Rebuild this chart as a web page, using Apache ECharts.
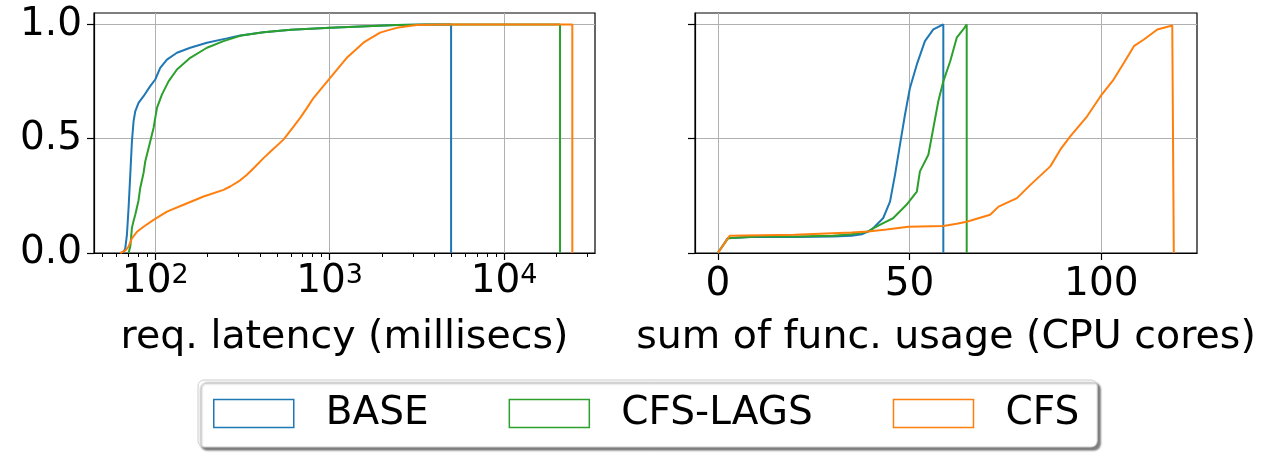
<!DOCTYPE html>
<html><head><meta charset="utf-8">
<script src="https://cdn.jsdelivr.net/npm/echarts@6/dist/echarts.min.js"></script>
<style>html,body{margin:0;padding:0;background:#fff}#c{width:1278px;height:453px}</style>
</head><body><div id="c"></div>
<script>
// ---------- DATA ----------
const seriesNames = ['BASE', 'CFS-LAGS', 'CFS'];

// Left panel: request latency (ms), empirical CDF
const latBaseX = [65.5, 67.3, 68.8, 70.3, 71.9, 73.5, 75.1, 76.8, 80.2, 85.7, 93.6, 100, 106.8, 116.7, 133.2, 158.7, 197.9, 257.6, 306.9, 417.6, 600, 1007, 2427, 3600, 4970, 4970];
const latBaseY = [0, 0.02, 0.079, 0.196, 0.342, 0.488, 0.576, 0.62, 0.657, 0.686, 0.73, 0.759, 0.81, 0.846, 0.876, 0.898, 0.92, 0.939, 0.952, 0.966, 0.977, 0.986, 0.997, 1.0, 1.0, 0];

const latLagsX = [70.3, 72.0, 73.5, 75.1, 76.8, 80.2, 82.0, 85.7, 87.6, 93.6, 97.8, 102.3, 109.2, 119.2, 133.2, 158.7, 197.9, 246.3, 306.9, 417.6, 600, 1007, 2427, 3600, 20940, 20940];
const latLagsY = [0, 0.03, 0.11, 0.14, 0.167, 0.23, 0.284, 0.35, 0.4, 0.488, 0.547, 0.635, 0.693, 0.751, 0.803, 0.854, 0.898, 0.927, 0.95, 0.966, 0.977, 0.986, 0.997, 1.0, 1.0, 0];

const latCfsX = [63.0, 67.3, 70.3, 73.5, 78.6, 85.7, 97.8, 116.7, 145.3, 189.2, 246.3, 269.1, 306.9, 335.5, 370, 417.6, 460, 543.5, 610, 677.6, 740, 807.5, 900, 1007, 1120, 1254, 1400, 1562, 1750, 1947, 2150, 2427, 2800, 3159, 3700, 4488, 24630, 24630];
const latCfsY = [0, 0.01, 0.028, 0.064, 0.093, 0.115, 0.145, 0.181, 0.211, 0.247, 0.276, 0.291, 0.318, 0.342, 0.374, 0.415, 0.445, 0.496, 0.545, 0.591, 0.634, 0.678, 0.721, 0.766, 0.809, 0.854, 0.887, 0.92, 0.943, 0.964, 0.974, 0.985, 0.992, 0.997, 0.999, 1.0, 1.0, 0];

// Right panel: sum of function usage (CPU cores), empirical CDF
const cpuBaseX = [0, 2.6, 3.1, 10, 20, 30, 34.9, 37.5, 39.2, 40.5, 43.1, 44.9, 46.2, 47.5, 48.8, 50.1, 51.9, 54.0, 56.2, 57.9, 58.8, 58.8];
const cpuBaseY = [0, 0.064, 0.072, 0.071, 0.07, 0.072, 0.075, 0.082, 0.094, 0.108, 0.152, 0.225, 0.342, 0.474, 0.605, 0.722, 0.825, 0.927, 0.978, 0.993, 1.0, 0];

const cpuLagsX = [0, 2.6, 3.1, 10, 20, 30, 34.9, 39.2, 40.5, 43, 45.7, 49.2, 51.9, 52.7, 54.9, 56.2, 57.5, 58.8, 60.6, 62.3, 64.0, 64.9, 64.9];
const cpuLagsY = [0, 0.064, 0.072, 0.072, 0.072, 0.075, 0.082, 0.094, 0.108, 0.13, 0.152, 0.211, 0.269, 0.357, 0.43, 0.547, 0.664, 0.751, 0.839, 0.942, 0.978, 1.0, 0];

const cpuCfsX = [0, 2.6, 3.1, 20, 34.9, 39.2, 44, 49.7, 58.8, 62.3, 64.9, 71.0, 73.2, 78.0, 81.5, 86.7, 89.3, 91.9, 96.3, 99.8, 103.2, 105.9, 108.5, 111.1, 114.6, 118.5, 118.9, 118.9];
const cpuCfsY = [0, 0.064, 0.075, 0.08, 0.09, 0.094, 0.103, 0.115, 0.118, 0.128, 0.137, 0.167, 0.203, 0.24, 0.298, 0.379, 0.452, 0.51, 0.598, 0.686, 0.759, 0.832, 0.905, 0.934, 0.978, 0.995, 1.0, 0];

// Tick values
const latMajorTicks = [100, 1000, 10000];
const latMinorTicks = [50, 60, 70, 80, 90, 200, 300, 400, 500, 600, 700, 800, 900, 2000, 3000, 4000, 5000, 6000, 7000, 8000, 9000, 20000, 30000];
const cpuTicks = [0, 50, 100];
const cdfTicks = [0, 0.5, 1.0];

// ---------- STYLE / BUILD ----------
const FONT = 'DejaVu Sans';
const FS = 39;
const COLORS = ['#1f77b4', '#2ca02c', '#ff7f0e'];
const zip = (xs, ys) => xs.map((x, i) => [x, ys[i]]);
const black = { color: '#000', width: 1.2 };
const gridLine = { show: true, lineStyle: { color: '#b0b0b0', width: 1 } };

const latData = [zip(latBaseX, latBaseY), zip(latLagsX, latLagsY), zip(latCfsX, latCfsY)];
const cpuData = [zip(cpuBaseX, cpuBaseY), zip(cpuLagsX, cpuLagsY), zip(cpuCfsX, cpuCfsY)];

const LAT_MIN = 44.55, LAT_MAX = 33230;
const CPU_MIN = -5.95, CPU_MAX = 124.95;

const series = [];
seriesNames.forEach((n, i) => {
  series.push({ name: n, type: 'line', xAxisIndex: 0, yAxisIndex: 0, data: latData[i], showSymbol: false, symbol: 'none',
    lineStyle: { color: COLORS[i], width: 2 }, itemStyle: { color: COLORS[i] }, animation: false, z: 3 + i });
  series.push({ name: n, type: 'line', xAxisIndex: 2, yAxisIndex: 1, data: cpuData[i], showSymbol: false, symbol: 'none',
    lineStyle: { color: COLORS[i], width: 2 }, itemStyle: { color: COLORS[i] }, animation: false, z: 3 + i });
});

const nameStyle = { fontSize: 39.5, color: '#000', fontFamily: FONT };

const option = {
  animation: false,
  textStyle: { fontFamily: FONT },
  grid: [
    { left: 94, top: 13, width: 501, height: 240, show: true, borderColor: '#000', borderWidth: 1.2, backgroundColor: 'transparent' },
    { left: 695, top: 13, width: 502, height: 240, show: true, borderColor: '#000', borderWidth: 1.2, backgroundColor: 'transparent' }
  ],
  xAxis: [
    { gridIndex: 0, type: 'log', logBase: 10, min: LAT_MIN, max: LAT_MAX, position: 'bottom',
      axisLine: { onZero: false, lineStyle: black },
      axisTick: { customValues: latMajorTicks, length: 7, lineStyle: black },
      axisLabel: { customValues: latMajorTicks, margin: 9, color: '#000',
        formatter: v => '{b|10}{s|' + Math.round(Math.log10(v)) + '}',
        rich: { b: { fontSize: FS, lineHeight: 40, fontFamily: FONT, color: '#000' },
                s: { fontSize: 27, lineHeight: 22, fontFamily: FONT, color: '#000', verticalAlign: 'top' } } },
      splitLine: gridLine,
      name: 'req. latency (millisecs)', nameLocation: 'middle', nameGap: 65, nameTextStyle: nameStyle },
    { gridIndex: 0, type: 'log', logBase: 10, min: LAT_MIN, max: LAT_MAX, position: 'bottom',
      axisLine: { show: false, onZero: false },
      axisTick: { customValues: latMinorTicks, length: 4, lineStyle: { color: '#000', width: 1 } },
      axisLabel: { show: false }, splitLine: { show: false } },
    { gridIndex: 1, type: 'value', min: CPU_MIN, max: CPU_MAX, position: 'bottom',
      axisLine: { onZero: false, lineStyle: black },
      axisTick: { customValues: cpuTicks, length: 7, lineStyle: black },
      axisLabel: { customValues: cpuTicks, margin: 12, fontSize: FS, color: '#000', fontFamily: FONT },
      splitLine: gridLine,
      name: 'sum of func. usage (CPU cores)', nameLocation: 'middle', nameGap: 65, nameTextStyle: nameStyle }
  ],
  yAxis: [
    { gridIndex: 0, type: 'value', min: 0, max: 1.05,
      axisLine: { show: true, onZero: false, lineStyle: black },
      axisTick: { show: true, customValues: cdfTicks, length: 7, lineStyle: black },
      axisLabel: { customValues: cdfTicks, margin: 12, fontSize: FS, color: '#000', fontFamily: FONT, formatter: v => Number(v).toFixed(1) },
      splitLine: gridLine },
    { gridIndex: 1, type: 'value', min: 0, max: 1.05,
      axisLine: { show: true, onZero: false, lineStyle: black },
      axisTick: { show: true, customValues: cdfTicks, length: 7, lineStyle: black },
      axisLabel: { show: false, customValues: cdfTicks },
      splitLine: gridLine }
  ],
  legend: {
    left: 198, top: 380, orient: 'horizontal', icon: 'rect',
    itemWidth: 80, itemHeight: 28, itemGap: 80,
    padding: [14, 18, 14, 15],
    borderColor: '#cccccc', borderWidth: 1, borderRadius: 6, backgroundColor: '#fff',
    shadowColor: 'rgba(0,0,0,0.5)', shadowBlur: 2, shadowOffsetX: 3, shadowOffsetY: 3,
    textStyle: { fontSize: FS, lineHeight: 38, color: '#000', fontFamily: FONT, padding: [0, 0, 0, 27] },
    data: seriesNames.map((n, i) => ({ name: n, icon: 'rect', itemStyle: { color: '#fff', borderColor: COLORS[i], borderWidth: 1.5 } }))
  },
  series: series
};

const chart = echarts.init(document.getElementById('c'), null, { renderer: 'canvas' });
chart.setOption(option);
</script>
</body></html>
